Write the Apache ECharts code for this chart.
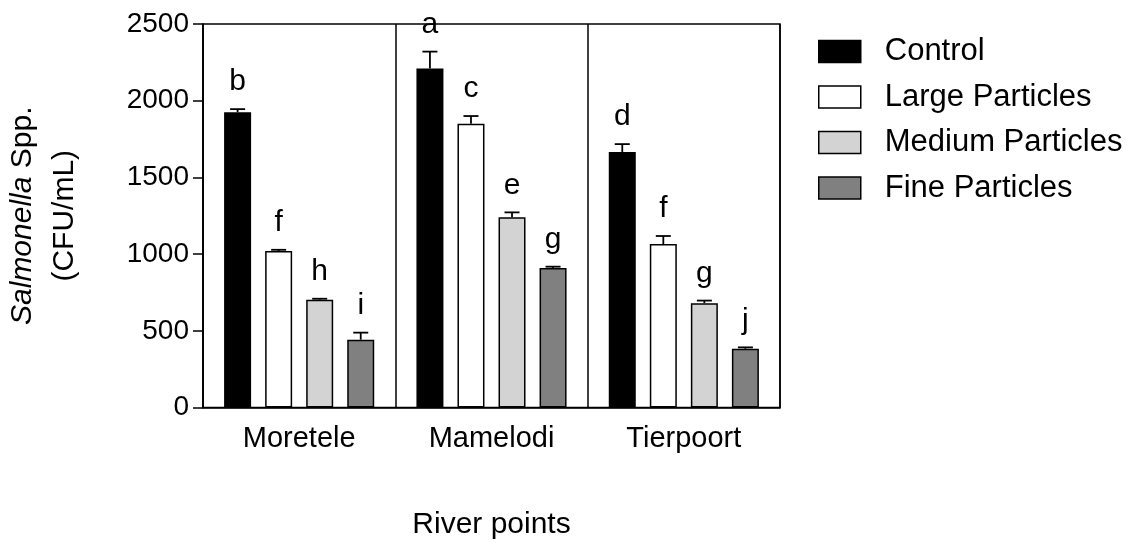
<!DOCTYPE html>
<html>
<head>
<meta charset="utf-8">
<script src="https://cdn.jsdelivr.net/npm/echarts@6/dist/echarts.min.js"></script>
<style>
html,body{margin:0;padding:0;background:#fff;}
#chart{width:1131px;height:548px;}
</style>
</head>
<body>
<div id="chart"></div>
<script>
const categories = ['Moretele', 'Mamelodi', 'Tierpoort'];
const seriesNames = ['Control', 'Large Particles', 'Medium Particles', 'Fine Particles'];
const control = [1925, 2210, 1665];
const large = [1020, 1850, 1066];
const medium = [703, 1240, 680];
const fine = [442, 909, 383];
const controlErr = [20, 110, 52];
const largeErr = [8, 50, 52];
const mediumErr = [6, 32, 17];
const fineErr = [46, 9, 9];
const controlLetters = ['b', 'a', 'd'];
const largeLetters = ['f', 'c', 'f'];
const mediumLetters = ['h', 'e', 'g'];
const fineLetters = ['i', 'g', 'j'];
const yTicks = [0, 500, 1000, 1500, 2000, 2500];

const values = [control, large, medium, fine];
const errs = [controlErr, largeErr, mediumErr, fineErr];
const letters = [controlLetters, largeLetters, mediumLetters, fineLetters];
const colors = ['#000000', '#ffffff', '#d3d3d3', '#808080'];

const FONT = 'Liberation Sans, Arial, sans-serif';
const BAR_W = 27;
const GAP_RATIO = 0.52;

const chart = echarts.init(document.getElementById('chart'));

const barSeries = seriesNames.map((name, i) => ({
  name: name,
  type: 'bar',
  barWidth: BAR_W,
  barGap: (GAP_RATIO * 100) + '%',
  data: values[i],
  itemStyle: { color: colors[i], borderColor: '#000', borderWidth: 1.5 },
  z: 2
}));

const errSeries = seriesNames.map((name, i) => ({
  type: 'custom',
  z: 3,
  silent: true,
  data: categories.map((c, k) => [k, values[i][k], errs[i][k]]),
  renderItem: function (params, api) {
    const k = api.value(0);
    const v = api.value(1);
    const e = api.value(2);
    const letter = letters[i][k];
    const step = BAR_W * (1 + GAP_RATIO);
    const off = (i - 1.5) * step;
    const base = api.coord([k, v]);
    const top = api.coord([k, v + e]);
    const x = base[0] + off;
    const capHalf = 7.5;
    return {
      type: 'group',
      children: [
        { type: 'line', shape: { x1: x, y1: base[1], x2: x, y2: top[1] }, style: { stroke: '#000', lineWidth: 1.8 } },
        { type: 'line', shape: { x1: x - capHalf, y1: top[1], x2: x + capHalf, y2: top[1] }, style: { stroke: '#000', lineWidth: 1.8 } },
        { type: 'text', x: x, y: top[1] - 12, style: { text: letter, fill: '#000', font: '30px ' + FONT, textAlign: 'center', textVerticalAlign: 'bottom' } }
      ]
    };
  }
}));

chart.setOption({
  animation: false,
  backgroundColor: '#fff',
  textStyle: { fontFamily: FONT, color: '#000' },
  grid: {
    left: 203, right: 351, top: 24, bottom: 140.5,
    outerBoundsMode: 'none', containLabel: false,
    show: true, borderColor: '#000', borderWidth: 1.5, backgroundColor: 'transparent'
  },
  legend: {
    data: seriesNames,
    orient: 'vertical',
    left: 818,
    top: 36,
    padding: 0,
    itemWidth: 42,
    itemHeight: 22,
    itemGap: 14.5,
    icon: 'rect',
    itemStyle: { borderColor: '#000', borderWidth: 1.5 },
    textStyle: { fontSize: 31, fontFamily: FONT, color: '#000', padding: [0, 0, 0, 19] }
  },
  xAxis: {
    type: 'category',
    data: categories,
    boundaryGap: true,
    name: 'River points',
    nameLocation: 'middle',
    nameGap: 102,
    nameTextStyle: { fontSize: 30, fontFamily: FONT, color: '#000' },
    axisLine: { lineStyle: { color: '#000', width: 1.5 } },
    axisTick: { alignWithLabel: true, length: 12, lineStyle: { color: '#000', width: 1.5 } },
    axisLabel: { fontSize: 29, fontFamily: FONT, color: '#000', margin: 17 },
    splitLine: { show: true, lineStyle: { color: '#000', width: 1.5 } }
  },
  yAxis: {
    type: 'value',
    min: yTicks[0],
    max: yTicks[yTicks.length - 1],
    interval: 500,
    name: '{i|Salmonella} Spp.\n(CFU/mL)',
    nameLocation: 'middle',
    nameRotate: 90,
    nameGap: 117,
    nameTextStyle: {
      fontSize: 30, fontFamily: FONT, color: '#000', lineHeight: 42, align: 'center',
      rich: { i: { fontStyle: 'italic', fontSize: 30, fontFamily: FONT, color: '#000', lineHeight: 42 } }
    },
    axisLine: { show: true, lineStyle: { color: '#000', width: 1.5 } },
    axisTick: { show: true, length: 10, lineStyle: { color: '#000', width: 1.5 } },
    axisLabel: { fontSize: 28, fontFamily: FONT, color: '#000', margin: 14, formatter: function (v) { return String(v); } },
    splitLine: { show: false }
  },
  series: barSeries.concat(errSeries)
});
</script>
</body>
</html>
